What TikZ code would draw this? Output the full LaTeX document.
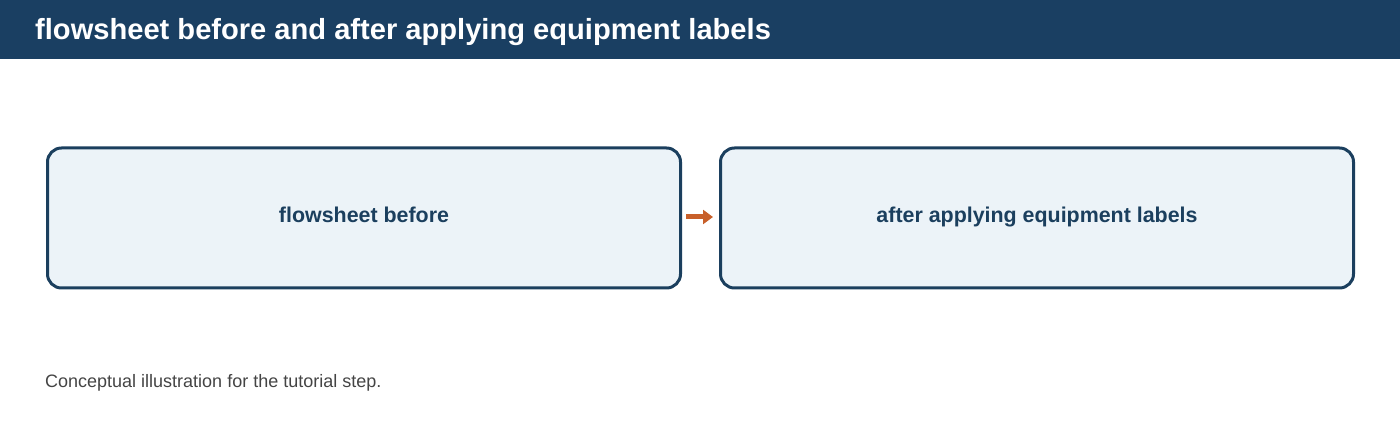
\documentclass[tikz,border=0pt]{standalone}
\usepackage{fontspec}
\setmainfont{Liberation Sans}
\usetikzlibrary{arrows.meta}
\definecolor{navy}{HTML}{1A3F62}
\definecolor{boxline}{HTML}{1B3F5E}
\definecolor{boxfill}{HTML}{ECF3F8}
\definecolor{orangec}{HTML}{C8602A}
\definecolor{greytxt}{HTML}{444444}
\tikzset{
  panel/.style={draw=boxline, line width=3pt, fill=boxfill, rounded corners=14pt, minimum width=633pt, minimum height=140pt, inner sep=0pt, font=\fontsize{21.4}{25}\selectfont\bfseries, text=boxline, text height=1em, text depth=0em},
  flowarrow/.style={draw=orangec, line width=5pt, -{Triangle[length=10pt,width=14pt]}}
}
\begin{document}
\begin{tikzpicture}[x=1pt,y=-1pt]
\useasboundingbox (0,0) rectangle (1400,430);
\fill[navy] (0,0) rectangle (1400,59);
\node[anchor=base west, text=white, font=\fontsize{29.1}{33}\selectfont\bfseries, inner sep=0pt] (title) at (35,40) {flowsheet before and after applying equipment labels};
\node[panel] (before) at (364,218) {flowsheet before};
\node[panel] (after) at (1037,218) {after applying equipment labels};
\draw[flowarrow] ([xshift=4pt,yshift=1pt]before.east) -- ([xshift=-6pt,yshift=1pt]after.west);
\node[anchor=base west, text=greytxt, font=\fontsize{18}{21}\selectfont, inner sep=0pt] (note) at (45,387) {Conceptual illustration for the tutorial step.};
\end{tikzpicture}
\end{document}
